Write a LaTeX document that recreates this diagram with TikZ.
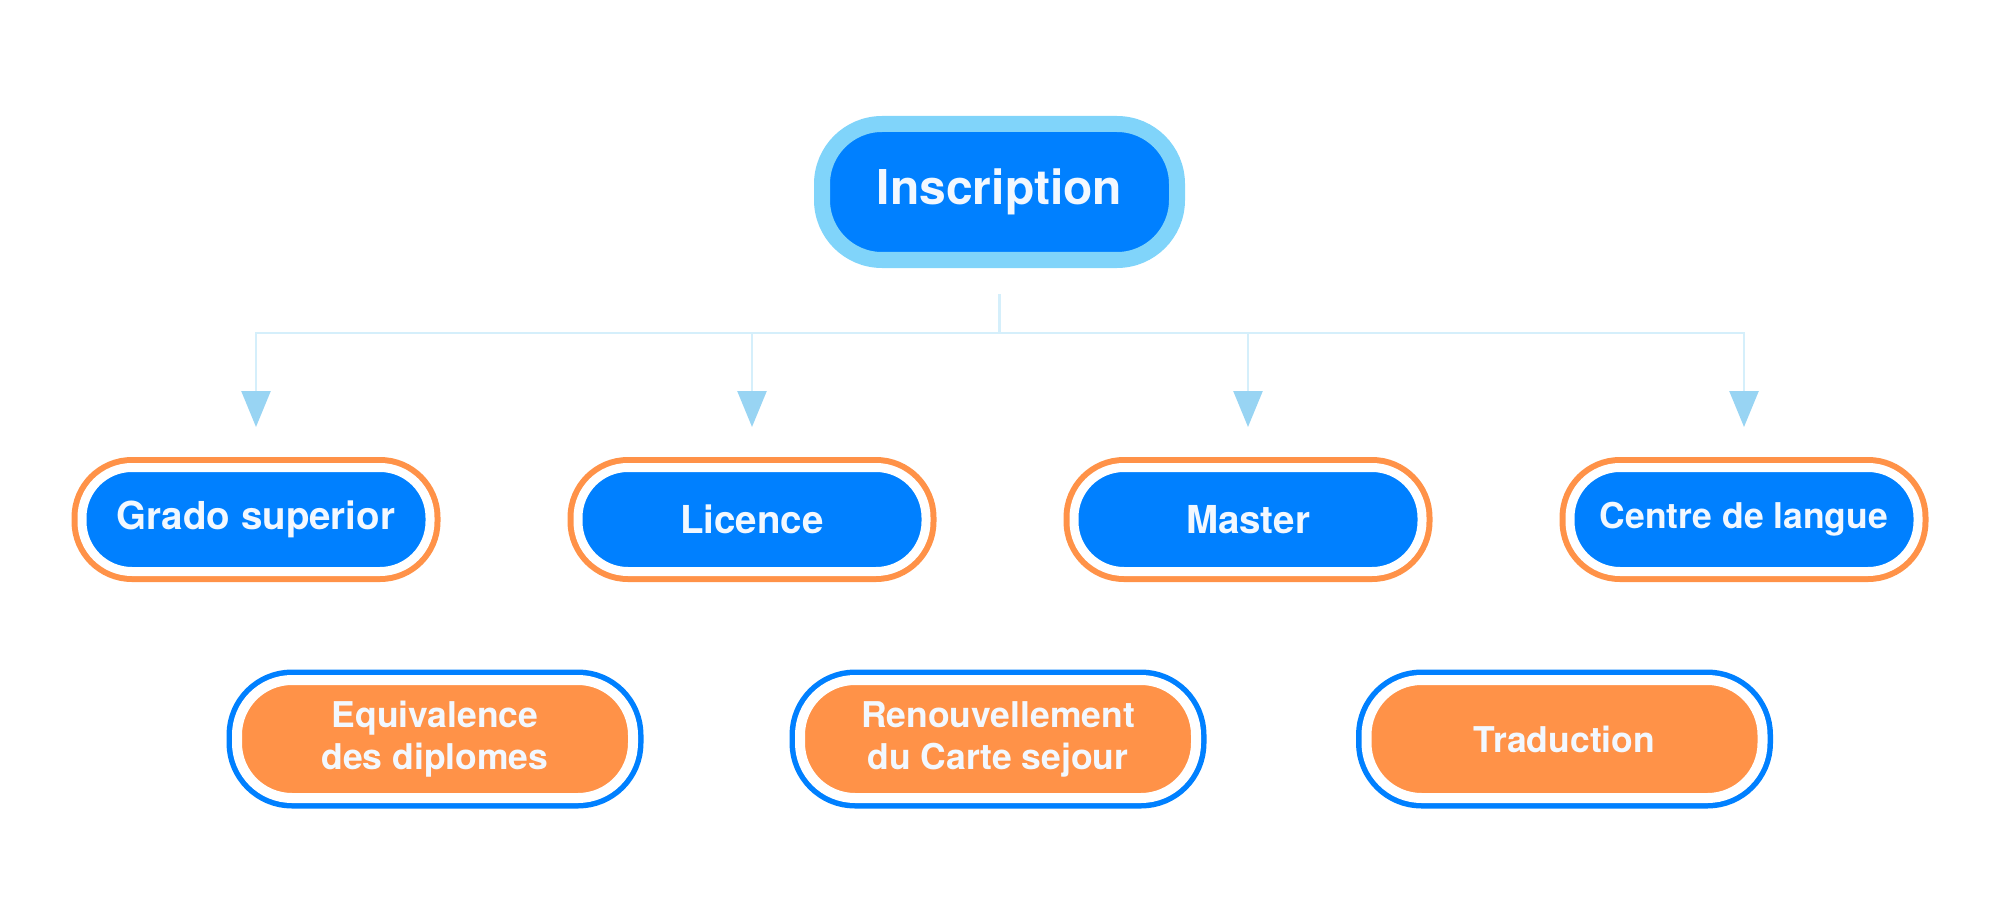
\documentclass[tikz,border=0pt]{standalone}
\usepackage{fontspec}
\setmainfont{TeX Gyre Heros}
\usetikzlibrary{arrows.meta}
\definecolor{mainblue}{RGB}{0,128,255}
\definecolor{ringblue}{RGB}{128,212,250}
\definecolor{mainorange}{RGB}{255,146,72}
\definecolor{labelwhite}{RGB}{242,248,255}
\definecolor{linkblue}{RGB}{213,239,251}
\definecolor{tipblue}{RGB}{152,212,243}

\begin{document}
\begin{tikzpicture}[x=1pt, y=-1pt,
  rootbox/.style={fill=mainblue, draw=ringblue, line width=16pt, rounded corners=60pt,
    minimum width=355pt, minimum height=136pt, inner sep=0pt, outer sep=0pt,
    text=labelwhite, font=\bfseries\fontsize{48}{56}\selectfont},
  levelbox/.style={fill=mainblue, draw=white, line width=9pt, rounded corners=50pt,
    preaction={draw=mainorange, line width=21pt},
    minimum width=348pt, minimum height=104pt, inner sep=0pt, outer sep=0pt,
    text=labelwhite, font=\bfseries\fontsize{38.5}{46}\selectfont},
  servicebox/.style={fill=mainorange, draw=white, line width=10pt, rounded corners=55pt,
    preaction={draw=mainblue, line width=21pt},
    minimum width=396pt, minimum height=118pt, inner sep=0pt, outer sep=0pt, align=center,
    text=labelwhite, font=\bfseries\fontsize{35.5}{42}\selectfont},
  link/.style={draw=linkblue, line width=2.5pt},
  branch/.style={link, -{Triangle[width=29pt, length=36pt, color=tipblue]}, shorten >=40.5pt}]
  \useasboundingbox (0,0) rectangle (2000,920);

  % top
  \node[rootbox] (root) at (999.5,192) {Inscription};
  \coordinate (split) at (999.5,333);

  % studies
  \node[levelbox] (grado) at (256,519.5) {Grado superior};
  \node[levelbox] (licence) at (752,519.5) {Licence};
  \node[levelbox] (master) at (1248,519.5) {Master};
  \node[levelbox, font=\bfseries\fontsize{35.5}{42}\selectfont] (langue) at (1744,519.5) {Centre de langue};

  % services
  \node[servicebox] (equiv) at (435,739) {Equivalence\\des diplomes};
  \node[servicebox] (carte) at (998,739) {Renouvellement\\du Carte sejour};
  \node[servicebox] (trad) at (1564.5,739) {Traduction};

  % connectors
  \draw[link, shorten <=34pt] (root) -- (split);
  \foreach \n in {grado,licence,master,langue}
    \draw[branch] (split) -| (\n.north);
\end{tikzpicture}
\end{document}
